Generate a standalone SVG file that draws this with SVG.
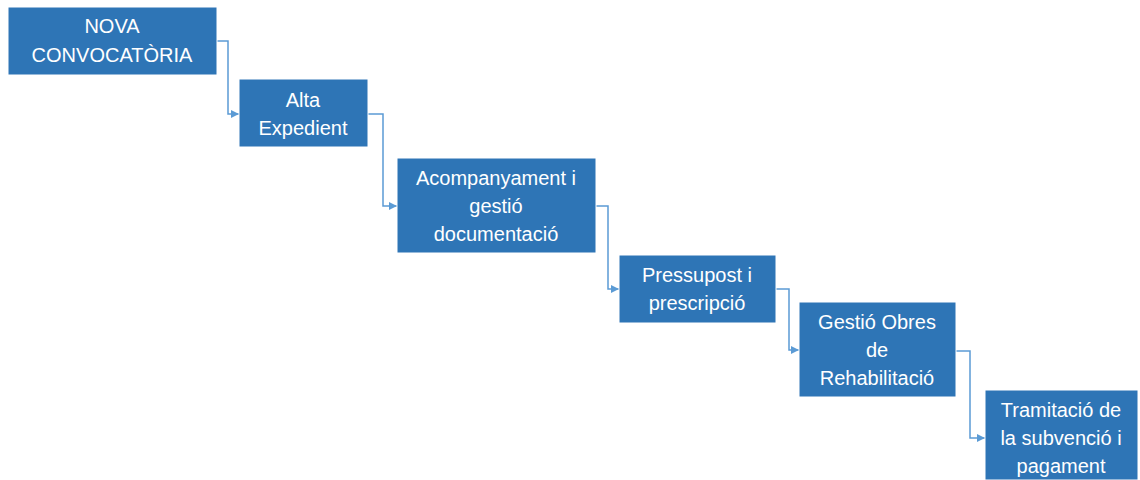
<svg xmlns="http://www.w3.org/2000/svg" width="1140" height="480" viewBox="0 0 1140 480">
  <defs>
    <style>
      .box { fill: #2E75B6; stroke: #ffffff; stroke-width: 1; }
      .lbl { fill: #ffffff; font-family: "Liberation Sans", Arial, sans-serif; font-size: 20px; text-anchor: middle; }
      .link { fill: none; stroke: #5B9BD5; stroke-width: 1.5; }
    </style>
    <marker id="arrow" viewBox="0 0 10 10" refX="10" refY="5" markerWidth="5.5" markerHeight="5.5" orient="auto" markerUnits="strokeWidth">
      <path d="M0,0 L10,5 L0,10 z" fill="#5B9BD5"/>
    </marker>
  </defs>
  <rect width="1140" height="480" fill="#ffffff"/>

  <g id="connectors">
    <path class="link" d="M216,41 H228 V114 H239" marker-end="url(#arrow)"/>
    <path class="link" d="M368,114 H383 V206 H397" marker-end="url(#arrow)"/>
    <path class="link" d="M596,206 H608 V289 H619" marker-end="url(#arrow)"/>
    <path class="link" d="M776,289 H789 V350 H799" marker-end="url(#arrow)"/>
    <path class="link" d="M956,351 H970 V438 H985" marker-end="url(#arrow)"/>
  </g>

  <g id="n1">
    <rect class="box" x="8" y="7" width="209" height="68"/>
    <text class="lbl" x="112" y="33">NOVA</text>
    <text class="lbl" x="112" y="62">CONVOCATÒRIA</text>
  </g>
  <g id="n2">
    <rect class="box" x="239" y="79" width="129" height="68"/>
    <text class="lbl" x="303" y="107">Alta</text>
    <text class="lbl" x="303" y="135">Expedient</text>
  </g>
  <g id="n3">
    <rect class="box" x="397" y="158" width="199" height="95"/>
    <text class="lbl" x="496" y="185">Acompanyament i</text>
    <text class="lbl" x="496" y="213">gestió</text>
    <text class="lbl" x="496" y="241">documentació</text>
  </g>
  <g id="n4">
    <rect class="box" x="619" y="255" width="157" height="68"/>
    <text class="lbl" x="697" y="282">Pressupost i</text>
    <text class="lbl" x="697" y="310">prescripció</text>
  </g>
  <g id="n5">
    <rect class="box" x="799" y="302" width="157" height="95"/>
    <text class="lbl" x="877" y="329">Gestió Obres</text>
    <text class="lbl" x="877" y="357">de</text>
    <text class="lbl" x="877" y="385">Rehabilitació</text>
  </g>
  <g id="n6">
    <rect class="box" x="985" y="390" width="153" height="90"/>
    <text class="lbl" x="1061" y="417">Tramitació de</text>
    <text class="lbl" x="1061" y="445">la subvenció i</text>
    <text class="lbl" x="1061" y="473">pagament</text>
  </g>
</svg>
